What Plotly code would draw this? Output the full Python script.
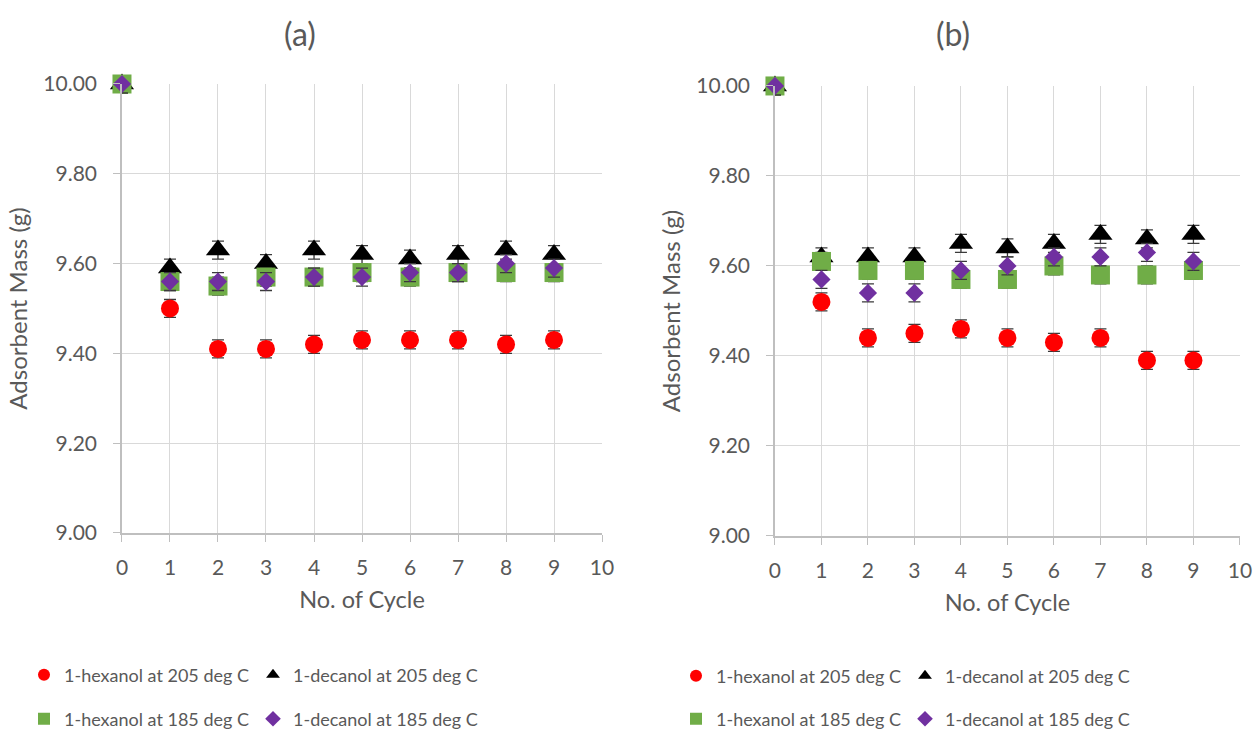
import plotly.graph_objects as go

# Cycle numbers (0 = fresh adsorbent)
cycles = [0, 1, 2, 3, 4, 5, 6, 7, 8, 9]

# Panel (a) adsorbent mass, g
a_hex_205 = [10.00, 9.50, 9.41, 9.41, 9.42, 9.43, 9.43, 9.43, 9.42, 9.43]
a_dec_205 = [10.00, 9.59, 9.63, 9.60, 9.63, 9.62, 9.61, 9.62, 9.63, 9.62]
a_hex_185 = [10.00, 9.56, 9.55, 9.57, 9.57, 9.58, 9.57, 9.58, 9.58, 9.58]
a_dec_185 = [10.00, 9.56, 9.56, 9.56, 9.57, 9.57, 9.58, 9.58, 9.60, 9.59]

# Panel (b) adsorbent mass, g
b_hex_205 = [10.00, 9.52, 9.44, 9.45, 9.46, 9.44, 9.43, 9.44, 9.39, 9.39]
b_dec_205 = [10.00, 9.62, 9.62, 9.62, 9.65, 9.64, 9.65, 9.67, 9.66, 9.67]
b_hex_185 = [10.00, 9.61, 9.59, 9.59, 9.57, 9.57, 9.60, 9.58, 9.58, 9.59]
b_dec_185 = [10.00, 9.57, 9.54, 9.54, 9.59, 9.60, 9.62, 9.62, 9.63, 9.61]

error = 0.02

series_names = [
    "1-hexanol at 205 deg C",
    "1-decanol at 205 deg C",
    "1-hexanol at 185 deg C",
    "1-decanol at 185 deg C",
]
colors = ["#FF0000", "#000000", "#70AD47", "#7030A0"]
symbols = ["circle", "triangle-up", "square", "diamond"]
sizes = [18, 21, 19, 14]

FONT = "Lato"
GREY = "#595959"

fig = go.Figure()

panels = [
    ("x", "y", [a_hex_205, a_dec_205, a_hex_185, a_dec_185], ["legend", "legend", "legend2", "legend2"]),
    ("x2", "y2", [b_hex_205, b_dec_205, b_hex_185, b_dec_185], ["legend3", "legend3", "legend4", "legend4"]),
]

for xa, ya, series, legends in panels:
    for i, vals in enumerate(series):
        fig.add_trace(go.Scatter(
            x=cycles, y=vals, mode="markers", name=series_names[i],
            xaxis=xa, yaxis=ya, legend=legends[i], cliponaxis=False,
            marker=dict(color=colors[i], symbol=symbols[i], size=sizes[i], line=dict(width=0)),
            error_y=dict(type="constant", value=error, color="#3a3a3a", thickness=1.3, width=6),
        ))

axis_common = dict(
    showgrid=True, gridcolor="#d9d9d9", gridwidth=1,
    showline=True, linecolor="#bfbfbf", linewidth=1.5,
    ticks="outside", ticklen=7, tickcolor="#bfbfbf",
    tickfont=dict(family=FONT, size=21, color=GREY),
    zeroline=False,
)

xaxis_cfg = dict(axis_common, range=[0, 10], dtick=1, tick0=0, ticklabelstandoff=8,
                 title=dict(text="No. of Cycle", font=dict(family=FONT, size=23.5, color=GREY), standoff=14))
yaxis_cfg = dict(axis_common, range=[9.0, 10.0], dtick=0.2, tick0=9.0, tickformat=".2f", ticklabelstandoff=12,
                 title=dict(text="Adsorbent Mass (g)", font=dict(family=FONT, size=24, color=GREY), standoff=9))

fig.update_layout(
    width=1255, height=731,
    margin=dict(l=0, r=0, t=0, b=0, autoexpand=False),
    paper_bgcolor="white", plot_bgcolor="white",
    font=dict(family=FONT, color=GREY),
    xaxis=dict(xaxis_cfg, domain=[0.0972, 0.4797], anchor="y"),
    yaxis=dict(yaxis_cfg, domain=[0.2709, 0.8851], anchor="x"),
    xaxis2=dict(xaxis_cfg, domain=[0.6175, 0.988], anchor="y2"),
    yaxis2=dict(yaxis_cfg, domain=[0.2668, 0.8824], anchor="x2"),
)

legend_common = dict(orientation="h", font=dict(family=FONT, size=18, color=GREY),
                     itemsizing="constant", xanchor="left", yanchor="middle",
                     bgcolor="rgba(0,0,0,0)", tracegroupgap=0, itemwidth=30,
                     entrywidth=184, entrywidthmode="pixels")
fig.update_layout(
    legend=dict(legend_common, x=24 / 1255, y=1 - 675 / 731),
    legend2=dict(legend_common, x=24 / 1255, y=1 - 719 / 731),
    legend3=dict(legend_common, x=676 / 1255, y=1 - 676 / 731),
    legend4=dict(legend_common, x=676 / 1255, y=1 - 719 / 731),
)

fig.add_annotation(text="(a)", x=300 / 1255, y=1 - 33 / 731, xref="paper", yref="paper",
                   xanchor="center", yanchor="middle",
                   showarrow=False, font=dict(family=FONT, size=32, color=GREY))
fig.add_annotation(text="(b)", x=953 / 1255, y=1 - 33 / 731, xref="paper", yref="paper",
                   xanchor="center", yanchor="middle",
                   showarrow=False, font=dict(family=FONT, size=32, color=GREY))

fig.write_html("out.html")
